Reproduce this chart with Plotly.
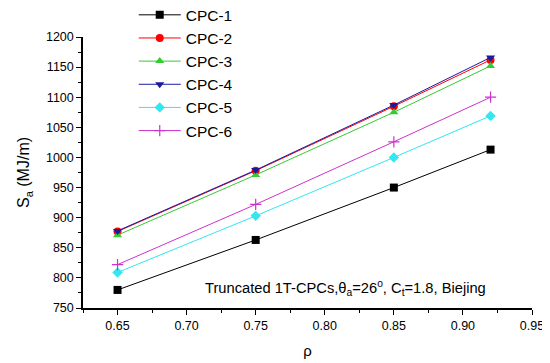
import plotly.graph_objects as go

rho = [0.65, 0.75, 0.85, 0.92]

names = ["CPC-1", "CPC-2", "CPC-3", "CPC-4", "CPC-5", "CPC-6"]
cpc1 = [780, 863, 950, 1013]
cpc2 = [877, 978, 1085, 1162]
cpc3 = [871, 971, 1075, 1152]
cpc4 = [878, 979, 1087, 1166]
cpc5 = [809, 903, 1000, 1069]
cpc6 = [822, 922, 1026, 1100]

series = [cpc1, cpc2, cpc3, cpc4, cpc5, cpc6]
colors = ["#000000", "#ff0000", "#33cc33", "#1a1aa0", "#33e6f0", "#cc33cc"]
symbols = ["square", "circle", "triangle-up", "triangle-down", "diamond", "cross-thin"]

fig = go.Figure()
for name, vals, col, sym in zip(names, series, colors, symbols):
    fig.add_trace(go.Scatter(
        x=rho, y=vals, name=name, mode="lines+markers",
        line=dict(color=col, width=1),
        marker=dict(symbol=sym, size=8, color=col,
                    line=dict(color=col, width=1.2 if sym == "cross-thin" else 0)),
    ))

fig.add_annotation(
    x=0.918, y=783, xref="x", yref="y", xanchor="right", yanchor="middle",
    text="Truncated 1T-CPCs,θ<sub>a</sub>=26<sup>o</sup>, C<sub>t</sub>=1.8, Biejing",
    showarrow=False, font=dict(size=14.7, color="black"),
)

axis_common = dict(
    showline=True, linecolor="black", linewidth=1.5, mirror=False,
    ticks="outside", ticklen=5, tickwidth=1.2, tickcolor="black",
    showgrid=False, zeroline=False, automargin=False,
    tickfont=dict(family="Arial, Liberation Sans", size=12.5, color="black"),
)

fig.update_xaxes(
    range=[0.625, 0.95], tick0=0.65, dtick=0.05, tickformat=".2f",
    minor=dict(ticks="outside", ticklen=3, dtick=0.025, tick0=0.625, tickcolor="black"),
    title=dict(text="ρ", font=dict(size=15, color="black"), standoff=14),
    **axis_common,
)
fig.update_yaxes(
    range=[750, 1200], tick0=750, dtick=50,
    minor=dict(ticks="outside", ticklen=3, dtick=25, tickcolor="black"),
    title=dict(text="S<sub>a</sub> (MJ/m)", font=dict(size=16, color="black"), standoff=12),
    **axis_common,
)

# page body has an 8px margin, so the figure is drawn 8px smaller and shifted
fig.update_layout(
    width=542, height=355,
    margin=dict(l=75, r=18, t=29, b=55, autoexpand=False),
    plot_bgcolor="white", paper_bgcolor="white",
    font=dict(family="Arial, Liberation Sans", color="black"),
    legend=dict(
        x=0.113, y=1.143, xanchor="left", yanchor="top",
        font=dict(size=15.5), itemwidth=42, tracegroupgap=0,
        bgcolor="rgba(0,0,0,0)",
    ),
    showlegend=True,
)

fig.write_html("out.html")
